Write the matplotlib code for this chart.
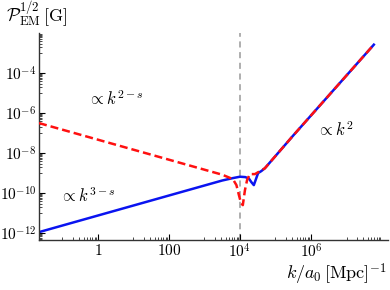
import numpy as np
import matplotlib
matplotlib.use("Agg")
import matplotlib.pyplot as plt
from matplotlib.ticker import FixedLocator, FixedFormatter, NullFormatter

plt.rcParams["mathtext.fontset"] = "cm"
plt.rcParams["font.family"] = "serif"
plt.rcParams["font.serif"] = ["DejaVu Serif"]

# log10 values
logk_blue = [-1.66, 0.0, 2.0, 3.5, 3.8, 4.0, 4.15, 4.25, 4.32, 4.39, 4.45, 4.51, 4.6, 4.7, 5.5, 6.5, 7.77]
logp_blue = [-11.95, -11.12, -10.12, -9.37, -9.25, -9.18, -9.2, -9.27, -9.45, -9.6, -9.3, -9.0, -8.9, -8.76, -7.12, -5.12, -2.58]

logk_red = [-1.66, 0.0, 2.0, 3.5, 3.8, 3.9, 3.97, 4.03, 4.08, 4.14, 4.2, 4.28, 4.42, 4.7, 5.5, 6.5, 7.77]
logp_red = [-6.5, -7.33, -8.33, -9.08, -9.3, -9.6, -10.1, -10.5, -10.6, -9.85, -9.35, -9.05, -9.05, -8.76, -7.12, -5.12, -2.58]

k_mark = 1e4
xticks = [1, 100, 1e4, 1e6]
xtick_labels = ["$1$", "$100$", "$10^4$", "$10^6$"]
yticks = [1e-12, 1e-10, 1e-8, 1e-6, 1e-4]
ytick_labels = ["$10^{-12}$", "$10^{-10}$", "$10^{-8}$", "$10^{-6}$", "$10^{-4}$"]

fig = plt.figure(figsize=(3.9, 2.9), dpi=100)
ax = fig.add_axes([0.1, 0.172, 0.895, 0.714])

ax.axvline(k_mark, color="#999999", lw=1.1, ls=(0, (4, 3)), zorder=1)
ax.plot(10.0 ** np.array(logk_blue), 10.0 ** np.array(logp_blue), color="#0a14f0", lw=1.8, zorder=2)
ax.plot(10.0 ** np.array(logk_red), 10.0 ** np.array(logp_red), color="#ff1010", lw=1.8,
        ls=(0, (3.2, 1.6)), zorder=3)

ax.set_xscale("log")
ax.set_yscale("log")
ax.set_xlim(10 ** -1.66, 10 ** 8.17)
ax.set_ylim(10 ** -12.35, 10 ** -2.0)

for s in ["top", "right"]:
    ax.spines[s].set_visible(False)
for s in ["left", "bottom"]:
    ax.spines[s].set_linewidth(1.0)
    ax.spines[s].set_color("#333333")

ax.xaxis.set_major_locator(FixedLocator(xticks))
ax.xaxis.set_major_formatter(FixedFormatter(xtick_labels))
xminor = [m * 10.0 ** e for e in [-1, 1, 3, 5, 7] for m in range(1, 10)]
ax.xaxis.set_minor_locator(FixedLocator(xminor))
ax.xaxis.set_minor_formatter(NullFormatter())

ax.yaxis.set_major_locator(FixedLocator(yticks))
ax.yaxis.set_major_formatter(FixedFormatter(ytick_labels))
yminor = [m * 10.0 ** e for e in [-13, -11, -9, -7, -5, -3] for m in range(1, 10)]
ax.yaxis.set_minor_locator(FixedLocator(yminor))
ax.yaxis.set_minor_formatter(NullFormatter())

ax.tick_params(which="major", direction="in", length=4, width=0.8, labelsize=11, pad=2)
ax.tick_params(which="minor", direction="in", length=2, width=0.5)

ax.text(0.52, 10 ** -5.6, r"$\propto k^{2-s}$", fontsize=12)
ax.text(0.085, 10 ** -10.45, r"$\propto k^{3-s}$", fontsize=12)
ax.text(1.5e6, 10 ** -7.15, r"$\propto k^{2}$", fontsize=12)

fig.text(0.015, 0.925, r"$\mathcal{P}_{\rm EM}^{1/2}\,[{\rm G}]$", fontsize=13)
fig.text(0.99, 0.035, r"$k/a_0\,[{\rm Mpc}]^{-1}$", fontsize=13, ha="right")

fig.savefig("out.png", dpi=100)
